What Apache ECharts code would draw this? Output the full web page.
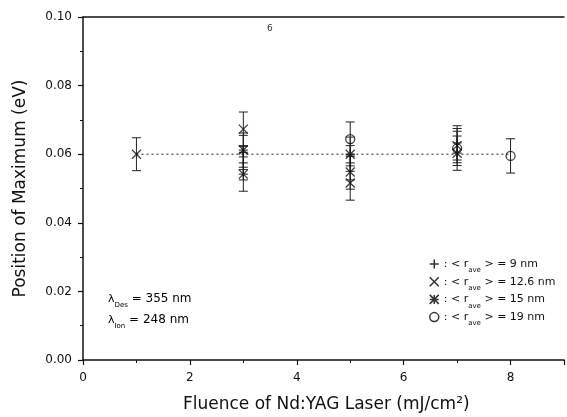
<!DOCTYPE html>
<html>
<head>
<meta charset="utf-8">
<script src="https://cdn.jsdelivr.net/npm/echarts@6/dist/echarts.min.js"></script>
<style>
  html, body { margin: 0; padding: 0; background: #fff; }
  #chart { width: 567px; height: 417px; }
</style>
</head>
<body>
<div id="chart"></div>
<script>
// values (fluence, peak position in eV)
const plus9 = [[3, 0.0605], [3, 0.0575], [5, 0.0575], [7, 0.0633]];
const plus9Err = [0.005, 0.005, 0.005, 0.005];
const cross126 = [[1, 0.0600], [3, 0.0673], [5, 0.0548], [5, 0.0516], [7, 0.0625]];
const cross126Err = [0.0048, 0.005, 0.005, 0.005, 0.005];
const star15 = [[3, 0.0612], [3, 0.0542], [5, 0.0600], [7, 0.0603]];
const star15Err = [0.005, 0.005, 0.005, 0.005];
const circle19 = [[5, 0.0644], [7, 0.0617], [8, 0.0595]];
const circle19Err = [0.005, 0.005, 0.005, 0.0048];
const meanLine = [[1, 0.06], [8, 0.06]];

const seriesNames = ["9 nm", "12.6 nm", "15 nm", "19 nm"];
const xTicks = [0, 2, 4, 6, 8];
const yTicks = [0, 0.02, 0.04, 0.06, 0.08, 0.1];

const FONT = "DejaVu Sans, Liberation Sans, sans-serif";

const plusPath = "path://M5,0L5,10M0,5L10,5";
const crossPath = "path://M0,0L10,10M10,0L0,10";
const starPath = "path://M0,0L10,10M10,0L0,10M0,5L10,5M5,0L5,10";

function withErr(points, errs) {
  return points.map(function (p, i) {
    return [p[0], p[1], errs[i]];
  });
}

function errorBars(points, errs) {
  return {
    type: "custom",
    silent: true,
    data: withErr(points, errs),
    renderItem: function (params, api) {
      const x = api.value(0);
      const y = api.value(1);
      const e = api.value(2);
      const hi = api.coord([x, y + e]);
      const lo = api.coord([x, y - e]);
      const w = 4.5;
      const st = { stroke: "#222", lineWidth: 1 };
      return {
        type: "group",
        children: [
          { type: "line", shape: { x1: hi[0], y1: hi[1], x2: lo[0], y2: lo[1] }, style: st },
          { type: "line", shape: { x1: hi[0] - w, y1: hi[1], x2: hi[0] + w, y2: hi[1] }, style: st },
          { type: "line", shape: { x1: lo[0] - w, y1: lo[1], x2: lo[0] + w, y2: lo[1] }, style: st },
        ],
      };
    },
  };
}

function markers(name, points, symbol) {
  return {
    name: name,
    type: "scatter",
    data: points,
    symbol: symbol,
    symbolSize: 9,
    itemStyle: { color: "rgba(0,0,0,0)", borderColor: "#111", borderWidth: 1.3 },
  };
}

// text with a subscript: main text centred, subscript pushed down
function subRich(size) {
  return {
    a: { fontFamily: FONT, fontSize: size, color: "#111", lineHeight: 14 },
    l: { fontFamily: FONT, fontSize: 11, color: "#111", lineHeight: 14 },
    s: { fontFamily: FONT, fontSize: 7, color: "#111", lineHeight: 8, padding: [13, 0, 0, 0] },
  };
}

function legendRow(name, i) {
  return {
    orient: "vertical",
    left: 429,
    top: 254 + i * 17.7,
    padding: 0,
    itemWidth: 9,
    itemHeight: 9,
    data: [name],
    itemStyle: { color: "rgba(0,0,0,0)", borderColor: "#000", borderWidth: 1.5 },
    formatter: function (n) {
      return "{a|: < r}{s|ave}{a| > = " + n + "}";
    },
    textStyle: { rich: subRich(11) },
    selectedMode: false,
  };
}

const chart = echarts.init(document.getElementById("chart"));

const option = {
  animation: false,
  grid: { left: 83, right: -11, top: 17, bottom: 57 },
  xAxis: [
    {
      type: "value",
      min: 0,
      max: 9,
      interval: 2,
      axisLine: { lineStyle: { color: "#111", width: 1.5 } },
      axisTick: { length: 5, lineStyle: { color: "#111", width: 1.2 } },
      minorTick: { show: true, splitNumber: 2, length: 3, lineStyle: { color: "#111" } },
      axisLabel: {
        fontFamily: FONT,
        fontSize: 12,
        color: "#111",
        margin: 12,
        formatter: function (v) {
          return xTicks.indexOf(v) >= 0 ? String(v) : "";
        },
      },
      splitLine: { show: false },
    },
    {
      type: "value",
      position: "top",
      min: 0,
      max: 9,
      axisLine: { show: true, lineStyle: { color: "#111", width: 1.5 } },
      axisTick: { show: false },
      axisLabel: { show: false },
      splitLine: { show: false },
    },
  ],
  yAxis: {
    type: "value",
    min: 0,
    max: 0.1,
    interval: 0.02,
    name: "Position of Maximum (eV)",
    nameLocation: "middle",
    nameGap: 54,
    nameTextStyle: { fontFamily: FONT, fontSize: 17, color: "#111" },
    axisLine: { show: true, lineStyle: { color: "#111", width: 1.5 } },
    axisTick: { length: 5, lineStyle: { color: "#111", width: 1.2 } },
    minorTick: { show: true, splitNumber: 2, length: 3, lineStyle: { color: "#111" } },
    axisLabel: {
      fontFamily: FONT,
      fontSize: 12,
      color: "#111",
      margin: 11,
      formatter: function (v) {
        return yTicks.some(function (t) { return Math.abs(t - v) < 1e-9; }) ? v.toFixed(2) : "";
      },
    },
    splitLine: { show: false },
  },
  legend: seriesNames.map(legendRow),
  graphic: [
    {
      type: "text",
      left: 183,
      top: 396,
      style: {
        text: "Fluence of Nd:YAG Laser (mJ/cm²)",
        fontFamily: FONT,
        fontSize: 17,
        fill: "#111",
      },
    },
    {
      type: "text",
      left: 108,
      top: 289,
      style: { text: "{l|λ}{s|Des}{a| = 355 nm}", rich: subRich(12) },
    },
    {
      type: "text",
      left: 108,
      top: 310,
      style: { text: "{l|λ}{s|Ion}{a| = 248 nm}", rich: subRich(12) },
    },
    {
      type: "text",
      left: 267,
      top: 24,
      style: { text: "6", fontFamily: FONT, fontSize: 9, fill: "#333" },
    },
  ],
  series: [
    {
      type: "line",
      data: meanLine,
      symbol: "none",
      silent: true,
      lineStyle: { color: "#222", width: 1, type: [2, 3] },
      z: 1,
    },
    errorBars(plus9, plus9Err),
    errorBars(cross126, cross126Err),
    errorBars(star15, star15Err),
    errorBars(circle19, circle19Err),
    markers(seriesNames[0], plus9, plusPath),
    markers(seriesNames[1], cross126, crossPath),
    markers(seriesNames[2], star15, starPath),
    markers(seriesNames[3], circle19, "circle"),
  ],
};

chart.setOption(option);
</script>
</body>
</html>
